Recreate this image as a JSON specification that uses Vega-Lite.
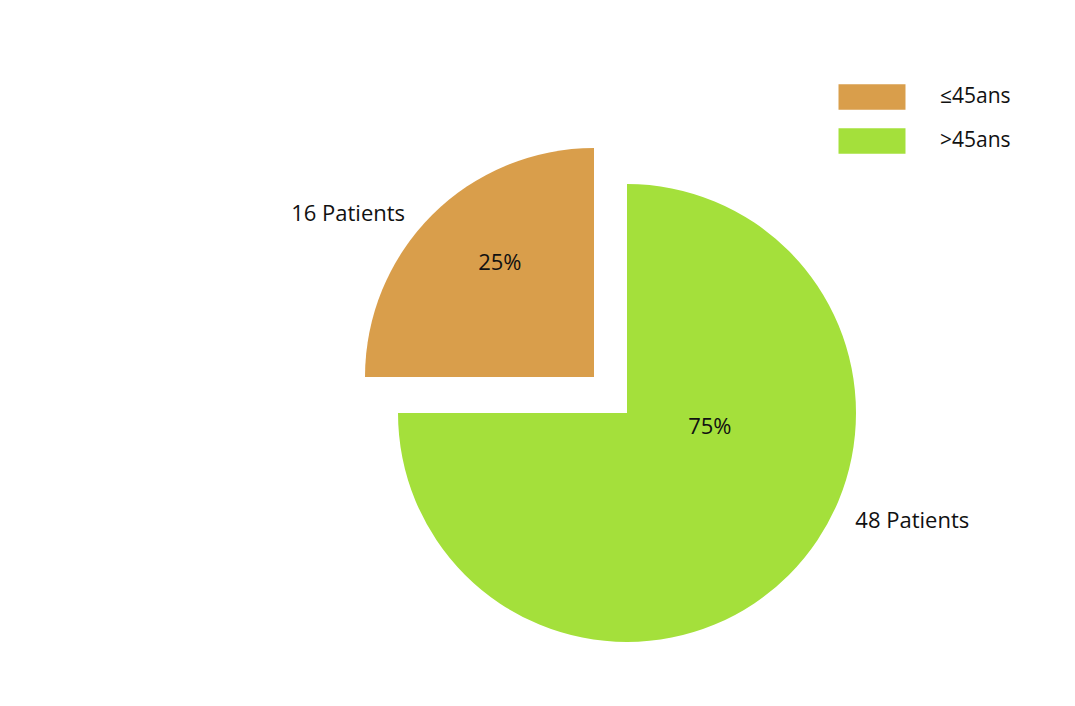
{
  "$schema": "https://vega.github.io/schema/vega-lite/v6.json",
  "autosize": "none",
  "width": 700,
  "height": 560,
  "padding": {"left": 277, "top": 133, "right": 98, "bottom": 13},
  "background": "white",
  "config": {"view": {"stroke": null}, "font": "Open Sans"},
  "data": {"values": [
    {"group": ">45ans", "patients": 48, "pct": "75%", "label": "48 Patients", "order": 1},
    {"group": "≤45ans", "patients": 16, "pct": "25%", "label": "16 Patients", "order": 2}
  ]},
  "encoding": {
    "theta": {"field": "patients", "type": "quantitative", "stack": true},
    "order": {"field": "order", "type": "quantitative"}
  },
  "layer": [
    {
      "mark": {"type": "arc", "outerRadius": 229},
      "encoding": {
        "color": {
          "field": "group", "type": "nominal",
          "scale": {"domain": ["≤45ans", ">45ans"], "range": ["#D99E4B", "#A4E03B"]},
          "legend": {
            "title": null, "orient": "none", "legendX": 578, "legendY": -53,
            "padding": 0,
            "symbolType": "M-2,-0.76H2V0.76H-2Z", "symbolSize": 1122,
            "symbolStrokeWidth": 0, "symbolOpacity": 1,
            "labelFont": "Open Sans", "labelFontSize": 21, "labelColor": "#111111",
            "labelOffset": 51, "rowPadding": 14
          }
        },
        "opacity": {"condition": {"test": "datum.group === '>45ans'", "value": 1}, "value": 0}
      }
    },
    {
      "mark": {"type": "arc", "outerRadius": 229, "xOffset": -33, "yOffset": -36},
      "encoding": {
        "color": {"field": "group", "type": "nominal"},
        "opacity": {"condition": {"test": "datum.group === '≤45ans'", "value": 1}, "value": 0}
      }
    },
    {
      "mark": {"type": "text", "radius": 84, "thetaOffset": -0.618, "fontSize": 22, "color": "#111111"},
      "encoding": {
        "text": {"condition": {"test": "datum.group === '>45ans'", "field": "pct"}, "value": ""}
      }
    },
    {
      "mark": {"type": "text", "radius": 305, "thetaOffset": -0.424, "fontSize": 22, "color": "#111111"},
      "encoding": {
        "text": {"condition": {"test": "datum.group === '>45ans'", "field": "label"}, "value": ""}
      }
    },
    {
      "mark": {"type": "text", "radius": 148, "thetaOffset": 0.096, "xOffset": -33, "yOffset": -36, "fontSize": 22, "color": "#111111"},
      "encoding": {
        "text": {"condition": {"test": "datum.group === '≤45ans'", "field": "pct"}, "value": ""}
      }
    },
    {
      "mark": {"type": "text", "radius": 295, "thetaOffset": -0.2, "xOffset": -33, "yOffset": -36, "fontSize": 22, "color": "#111111"},
      "encoding": {
        "text": {"condition": {"test": "datum.group === '≤45ans'", "field": "label"}, "value": ""}
      }
    }
  ]
}
